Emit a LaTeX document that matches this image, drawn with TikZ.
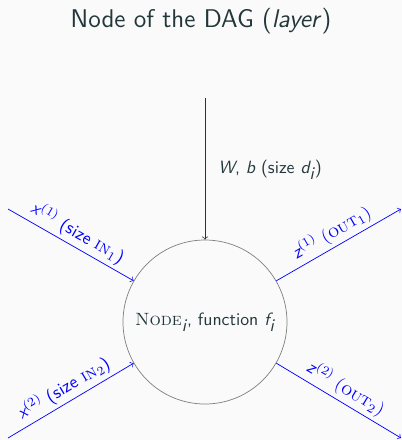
\documentclass[tikz,border=0pt]{standalone}
\usetikzlibrary{arrows}
\definecolor{bgcol}{HTML}{FAFAFA}
\definecolor{txtcol}{HTML}{23373B}
\definecolor{circcol}{HTML}{808080}
\begin{document}
\begin{tikzpicture}[x=0.5625pt,y=-0.5625pt,font=\sffamily,
  inarrow/.style={->,blue,thin},
  lbl/.style={above,sloped,midway,text=blue,inner sep=2pt},
  nodecirc/.style={circle,draw=circcol,thin,minimum size={164*0.5625pt},inner sep=0pt,text=txtcol}]
\fill[bgcol] (0,0) rectangle (402,440);
\useasboundingbox (0,0) rectangle (402,440);
\node[text=txtcol,font=\sffamily\Large] (title) at (201,21) {Node of the DAG (\textit{layer})};
\node[nodecirc] (c) at (205,322) {{\rmfamily\textsc{Node}}$_{\textit{i}}$, function $\textit{f}_{\textit{i}}$};
\coordinate (top) at (205,98);
\draw[->,txtcol,thin] (top) -- (c.north);
\node[anchor=west,text=txtcol] (wb) at (212,170) {$\textit{W}$, $\textit{b}$ (size $\textit{d}_{\textit{i}}$)};
\coordinate (a1) at (8,209);
\coordinate (a2) at (8,438);
\coordinate (b1) at (401,209);
\coordinate (b2) at (401,438);
\draw[inarrow] (a1) -- node[lbl] {$\textit{x}^{(1)}$ (size {\rmfamily\textsc{in}}$_1$)} (c.150);
\draw[inarrow] (a2) -- node[lbl] {$\textit{x}^{(2)}$ (size {\rmfamily\textsc{in}}$_2$)} (c.210);
\draw[inarrow] (c.30) -- node[lbl] {$\textit{z}^{(1)}$ $(${\rmfamily\textsc{out}}$_1)$} (b1);
\draw[inarrow] (c.330) -- node[lbl] {$\textit{z}^{(2)}$ $(${\rmfamily\textsc{out}}$_2)$} (b2);
\end{tikzpicture}
\end{document}
